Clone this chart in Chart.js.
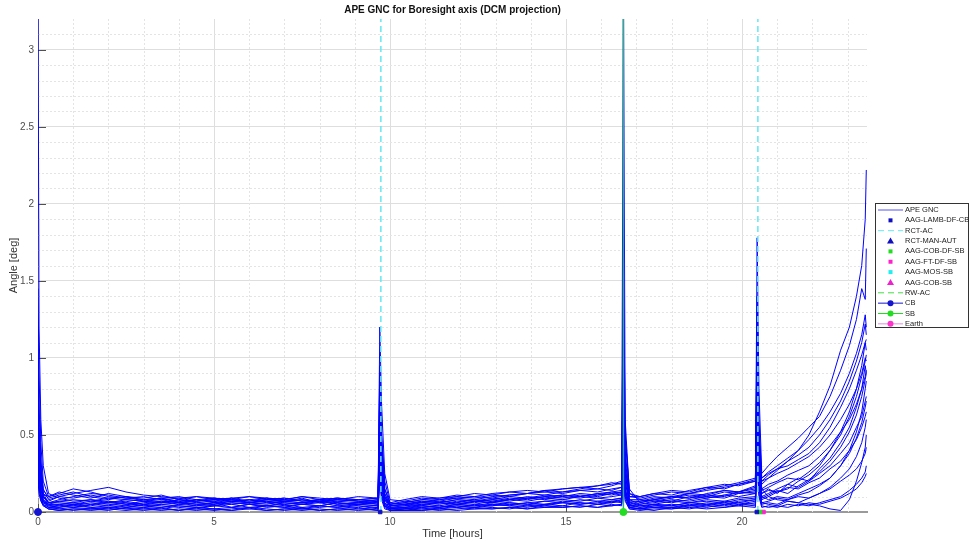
<!DOCTYPE html>
<html>
<head>
<meta charset="utf-8">
<script src="https://cdn.jsdelivr.net/npm/chart.js@4.4.0/dist/chart.umd.min.js"></script>
<style>
  html, body { margin: 0; padding: 0; background: #fff; }
  canvas { display: block; }
</style>
</head>
<body>
<canvas id="ape" width="969" height="542"></canvas>
<script>
// time axis (hours), shared by every run
const hours = [
  0, 0.03, 0.08, 0.15, 0.3,
  0.6, 1.0, 1.5, 2.0, 2.5, 3.0, 3.5, 4.0, 4.5, 5.0, 5.5, 6.0, 6.5, 7.0, 7.5, 8.0, 8.5, 9.1, 9.66,
  9.71, 9.76, 9.85, 10.0,
  10.4, 10.9, 11.4, 11.9, 12.4, 12.9, 13.4, 13.9, 14.4, 14.9, 15.4, 15.9, 16.3, 16.58,
  16.63, 16.68, 16.8,
  17.1, 17.5, 18.0, 18.5, 19.0, 19.5, 19.9, 20.38,
  20.43, 20.48, 20.56,
  20.75, 21.0, 21.3, 21.6, 21.9, 22.2, 22.5, 22.8, 23.05, 23.25, 23.4, 23.5, 23.53
];

// APE GNC angle per run [deg]
const run01 = [3.4,1.2,0.6,0.3,0.12,
  0.09,0.07,0.08,0.06,0.07,0.05,0.06,0.07,0.05,0.06,0.08,0.06,0.07,0.05,0.06,0.07,0.05,0.06,0.05,
  0.9,0.5,0.2,0.06,
  0.05,0.07,0.06,0.08,0.07,0.09,0.08,0.1,0.09,0.11,0.1,0.12,0.11,0.13,
  3.5,0.6,0.12,
  0.08,0.1,0.09,0.12,0.11,0.14,0.13,0.16,
  0.9,0.4,0.18,
  0.22,0.27,0.33,0.4,0.5,0.65,0.82,1.05,1.2,1.4,1.6,1.9,2.22];
const run02 = [1.45,0.9,0.45,0.2,0.1,
  0.12,0.15,0.13,0.1,0.09,0.08,0.09,0.07,0.08,0.06,0.07,0.08,0.06,0.07,0.08,0.06,0.07,0.06,0.07,
  1.2,0.7,0.25,0.08,
  0.07,0.06,0.08,0.09,0.08,0.1,0.11,0.12,0.11,0.13,0.14,0.13,0.15,0.16,
  1.6,0.5,0.15,
  0.06,0.08,0.1,0.09,0.12,0.14,0.13,0.17,
  1.78,0.8,0.25,
  0.3,0.36,0.42,0.48,0.55,0.62,0.75,0.92,1.08,1.25,1.45,1.38,1.71];
const run03 = [1.2,0.7,0.35,0.15,0.08,
  0.1,0.12,0.14,0.16,0.13,0.11,0.1,0.09,0.1,0.08,0.09,0.07,0.08,0.09,0.07,0.08,0.09,0.07,0.08,
  0.7,0.45,0.15,0.05,
  0.06,0.08,0.07,0.09,0.1,0.09,0.11,0.12,0.14,0.13,0.15,0.17,0.18,0.2,
  1.1,0.35,0.1,
  0.1,0.12,0.11,0.14,0.16,0.15,0.18,0.21,
  1.2,0.5,0.2,
  0.24,0.28,0.33,0.37,0.42,0.5,0.6,0.72,0.85,0.98,1.1,1.22,1.15];
const run04 = [1.0,0.55,0.3,0.12,0.06,
  0.06,0.05,0.07,0.06,0.08,0.07,0.06,0.08,0.07,0.09,0.08,0.07,0.09,0.08,0.1,0.09,0.08,0.1,0.09,
  0.6,0.35,0.12,0.04,
  0.05,0.04,0.06,0.05,0.07,0.06,0.08,0.07,0.09,0.08,0.1,0.09,0.1,0.11,
  0.9,0.3,0.08,
  0.05,0.06,0.08,0.07,0.09,0.11,0.1,0.12,
  1.0,0.45,0.15,
  0.1,0.13,0.15,0.2,0.24,0.3,0.4,0.52,0.65,0.8,0.95,1.1,1.05];
const run05 = [0.75,0.45,0.25,0.1,0.05,
  0.04,0.05,0.04,0.06,0.05,0.04,0.05,0.06,0.04,0.05,0.06,0.05,0.04,0.06,0.05,0.04,0.06,0.05,0.04,
  0.5,0.3,0.1,0.03,
  0.03,0.05,0.04,0.06,0.05,0.07,0.06,0.05,0.07,0.08,0.07,0.09,0.08,0.09,
  0.7,0.25,0.06,
  0.04,0.05,0.04,0.06,0.07,0.06,0.08,0.09,
  0.8,0.35,0.12,
  0.15,0.12,0.18,0.22,0.2,0.28,0.35,0.45,0.55,0.68,0.8,0.95,0.9];
const run06 = [0.55,0.35,0.18,0.08,0.04,
  0.03,0.04,0.03,0.02,0.04,0.03,0.05,0.04,0.03,0.04,0.05,0.03,0.04,0.05,0.03,0.04,0.03,0.05,0.04,
  0.45,0.25,0.08,0.02,
  0.02,0.03,0.04,0.03,0.05,0.04,0.06,0.05,0.04,0.06,0.05,0.07,0.06,0.08,
  0.6,0.2,0.05,
  0.03,0.04,0.05,0.04,0.06,0.05,0.07,0.08,
  0.7,0.3,0.1,
  0.08,0.1,0.09,0.12,0.15,0.18,0.22,0.3,0.4,0.52,0.65,0.8,0.85];
const run07 = [0.45,0.3,0.15,0.07,0.03,
  0.02,0.03,0.02,0.03,0.02,0.03,0.02,0.04,0.03,0.02,0.03,0.02,0.04,0.03,0.02,0.03,0.04,0.02,0.03,
  0.4,0.2,0.06,0.02,
  0.03,0.02,0.03,0.04,0.03,0.04,0.05,0.04,0.05,0.04,0.06,0.05,0.06,0.07,
  0.5,0.15,0.04,
  0.05,0.07,0.06,0.08,0.1,0.09,0.12,0.13,
  0.6,0.25,0.1,
  0.12,0.15,0.18,0.16,0.2,0.25,0.3,0.38,0.45,0.55,0.62,0.72,0.75];
const run08 = [0.4,0.25,0.12,0.05,0.02,
  0.01,0.02,0.01,0.02,0.01,0.02,0.03,0.01,0.02,0.01,0.02,0.03,0.01,0.02,0.01,0.02,0.01,0.02,0.01,
  0.35,0.18,0.05,0.01,
  0.01,0.02,0.01,0.02,0.03,0.02,0.03,0.02,0.04,0.03,0.04,0.03,0.05,0.04,
  0.45,0.12,0.03,
  0.02,0.03,0.02,0.04,0.03,0.05,0.04,0.06,
  0.5,0.2,0.06,
  0.05,0.04,0.07,0.06,0.09,0.12,0.16,0.22,0.28,0.36,0.45,0.55,0.6];
const run09 = [0.35,0.2,0.1,0.06,0.04,
  0.05,0.06,0.05,0.07,0.06,0.05,0.07,0.06,0.05,0.04,0.06,0.05,0.06,0.04,0.05,0.06,0.04,0.05,0.06,
  0.3,0.15,0.05,0.03,
  0.04,0.05,0.06,0.05,0.07,0.06,0.08,0.09,0.08,0.1,0.09,0.11,0.12,0.11,
  0.4,0.12,0.04,
  0.03,0.05,0.04,0.06,0.05,0.07,0.06,0.08,
  0.45,0.18,0.08,
  0.1,0.08,0.07,0.06,0.05,0.04,0.02,0.01,0.08,0.2,0.32,0.42,0.5];
const run10 = [0.3,0.18,0.1,0.07,0.05,
  0.07,0.08,0.07,0.09,0.08,0.07,0.08,0.06,0.07,0.08,0.07,0.06,0.08,0.07,0.06,0.07,0.08,0.07,0.06,
  0.3,0.12,0.04,0.02,
  0.03,0.04,0.03,0.05,0.04,0.06,0.05,0.06,0.07,0.06,0.08,0.07,0.08,0.09,
  0.35,0.1,0.03,
  0.02,0.03,0.03,0.04,0.05,0.04,0.06,0.05,
  0.4,0.15,0.05,
  0.06,0.05,0.08,0.1,0.09,0.12,0.15,0.2,0.24,0.28,0.33,0.38,0.42];
const run11 = [0.25,0.15,0.08,0.04,0.02,
  0.02,0.01,0.02,0.03,0.02,0.01,0.02,0.01,0.03,0.02,0.01,0.02,0.01,0.02,0.03,0.01,0.02,0.01,0.02,
  0.25,0.1,0.03,0.01,
  0.01,0.01,0.02,0.01,0.02,0.02,0.03,0.02,0.03,0.03,0.04,0.03,0.04,0.05,
  0.3,0.08,0.02,
  0.01,0.02,0.02,0.03,0.02,0.03,0.04,0.03,
  0.35,0.12,0.04,
  0.03,0.04,0.03,0.05,0.04,0.06,0.08,0.1,0.14,0.18,0.22,0.26,0.3];
const run12 = [0.6,0.4,0.2,0.1,0.07,
  0.1,0.09,0.11,0.09,0.1,0.08,0.09,0.1,0.08,0.09,0.07,0.08,0.09,0.07,0.08,0.07,0.09,0.08,0.07,
  0.55,0.3,0.1,0.05,
  0.06,0.08,0.09,0.1,0.12,0.11,0.13,0.14,0.13,0.15,0.16,0.17,0.19,0.18,
  0.8,0.25,0.07,
  0.07,0.09,0.1,0.12,0.14,0.16,0.18,0.2,
  0.9,0.4,0.2,
  0.22,0.25,0.28,0.32,0.36,0.42,0.5,0.6,0.7,0.8,0.9,1.0,0.98];
const run13 = [0.5,0.3,0.15,0.08,0.05,
  0.05,0.04,0.06,0.05,0.04,0.06,0.07,0.05,0.06,0.07,0.05,0.06,0.07,0.06,0.05,0.07,0.06,0.05,0.07,
  0.5,0.25,0.08,0.04,
  0.05,0.06,0.05,0.07,0.06,0.08,0.07,0.09,0.1,0.09,0.11,0.1,0.12,0.13,
  0.55,0.15,0.05,
  0.06,0.08,0.07,0.1,0.09,0.11,0.13,0.12,
  0.65,0.3,0.12,
  0.14,0.13,0.16,0.15,0.19,0.22,0.28,0.33,0.4,0.47,0.55,0.62,0.65];
const run14 = [0.9,0.5,0.25,0.1,0.06,
  0.08,0.1,0.12,0.11,0.09,0.1,0.08,0.09,0.07,0.08,0.09,0.1,0.08,0.09,0.07,0.08,0.07,0.08,0.09,
  0.8,0.4,0.12,0.05,
  0.07,0.09,0.08,0.1,0.09,0.11,0.1,0.12,0.13,0.12,0.14,0.15,0.14,0.16,
  1.3,0.4,0.1,
  0.09,0.11,0.13,0.12,0.15,0.17,0.19,0.22,
  1.4,0.6,0.22,
  0.26,0.3,0.35,0.4,0.47,0.55,0.65,0.77,0.9,1.03,1.15,1.28,1.2];
const run15 = [0.7,0.4,0.22,0.12,0.09,
  0.11,0.13,0.1,0.08,0.1,0.07,0.09,0.06,0.08,0.07,0.09,0.06,0.08,0.07,0.09,0.06,0.08,0.07,0.05,
  0.65,0.35,0.1,0.04,
  0.05,0.07,0.06,0.08,0.07,0.08,0.1,0.09,0.11,0.1,0.12,0.11,0.13,0.12,
  0.75,0.2,0.06,
  0.07,0.08,0.1,0.09,0.11,0.1,0.13,0.15,
  0.85,0.35,0.15,
  0.18,0.2,0.24,0.27,0.3,0.36,0.43,0.52,0.6,0.7,0.8,0.88,0.92];
const run16 = [0.38,0.22,0.12,0.07,0.03,
  0.03,0.05,0.03,0.04,0.06,0.04,0.03,0.05,0.04,0.06,0.03,0.05,0.04,0.03,0.05,0.04,0.06,0.04,0.03,
  0.42,0.2,0.06,0.02,
  0.02,0.04,0.03,0.05,0.04,0.05,0.04,0.06,0.05,0.07,0.06,0.05,0.07,0.08,
  0.5,0.14,0.04,
  0.04,0.05,0.07,0.06,0.08,0.07,0.09,0.1,
  0.55,0.22,0.09,
  0.11,0.14,0.12,0.17,0.21,0.26,0.33,0.42,0.52,0.63,0.75,0.86,0.9];
const run17 = [0.28,0.17,0.09,0.05,0.03,
  0.04,0.03,0.05,0.04,0.03,0.05,0.04,0.03,0.02,0.04,0.03,0.05,0.03,0.04,0.02,0.04,0.03,0.04,0.02,
  0.28,0.12,0.04,0.01,
  0.02,0.03,0.02,0.04,0.03,0.05,0.04,0.03,0.05,0.06,0.05,0.06,0.07,0.06,
  0.32,0.1,0.03,
  0.02,0.04,0.03,0.05,0.04,0.06,0.05,0.07,
  0.4,0.16,0.06,
  0.07,0.09,0.08,0.11,0.13,0.17,0.22,0.3,0.38,0.48,0.58,0.68,0.72];
const run18 = [0.85,0.5,0.28,0.14,0.1,
  0.13,0.11,0.09,0.12,0.1,0.09,0.11,0.08,0.1,0.09,0.08,0.1,0.09,0.08,0.1,0.08,0.09,0.08,0.09,
  0.95,0.5,0.15,0.06,
  0.08,0.1,0.09,0.11,0.1,0.12,0.13,0.12,0.14,0.15,0.16,0.15,0.17,0.19,
  1.8,0.5,0.12,
  0.1,0.12,0.14,0.13,0.16,0.18,0.17,0.2,
  1.1,0.5,0.22,
  0.25,0.28,0.3,0.34,0.38,0.45,0.55,0.68,0.8,0.92,1.02,1.1,1.12];
const run19 = [0.2,0.12,0.07,0.04,0.02,
  0.01,0.02,0.02,0.01,0.03,0.02,0.01,0.02,0.01,0.02,0.01,0.03,0.02,0.01,0.02,0.01,0.02,0.03,0.01,
  0.2,0.08,0.02,0.01,
  0.02,0.01,0.02,0.03,0.02,0.03,0.02,0.04,0.03,0.04,0.03,0.05,0.04,0.05,
  0.25,0.07,0.02,
  0.02,0.01,0.03,0.02,0.04,0.03,0.05,0.04,
  0.3,0.1,0.03,
  0.04,0.03,0.05,0.04,0.06,0.05,0.07,0.09,0.12,0.15,0.19,0.23,0.25];
const run20 = [0.65,0.38,0.2,0.1,0.06,
  0.07,0.06,0.08,0.07,0.05,0.07,0.06,0.08,0.06,0.05,0.07,0.06,0.05,0.07,0.06,0.08,0.05,0.06,0.08,
  0.6,0.3,0.09,0.04,
  0.04,0.06,0.07,0.06,0.08,0.07,0.09,0.08,0.1,0.11,0.1,0.12,0.13,0.14,
  0.95,0.3,0.08,
  0.08,0.07,0.09,0.11,0.1,0.13,0.12,0.14,
  0.75,0.3,0.14,
  0.16,0.19,0.22,0.21,0.26,0.32,0.4,0.5,0.62,0.75,0.88,0.98,1.02];
const runs = [run01, run02, run03, run04, run05, run06, run07, run08, run09, run10,
  run11, run12, run13, run14, run15, run16, run17, run18, run19, run20];

// event markers (hours)
const rctAcTimes = [9.74, 20.45];
const rwAcTimes = [16.63];
const cbTimes = [0];
const sbTimes = [16.63];
const lambDfCbTimes = [9.72, 20.42];
const cobDfSbTimes = [20.51];
const ftDfSbTimes = [20.61];

const xTicks = [0, 5, 10, 15, 20];
const yTicks = [0, 0.5, 1, 1.5, 2, 2.5, 3];

const legendLabels = ['APE GNC', 'AAG-LAMB-DF-CB', 'RCT-AC', 'RCT-MAN-AUT', 'AAG-COB-DF-SB',
  'AAG-FT-DF-SB', 'AAG-MOS-SB', 'AAG-COB-SB', 'RW-AC', 'CB', 'SB', 'Earth'];

const FONT = '"Liberation Sans", Arial, Helvetica, sans-serif';
const Y_MAX = 3.2;

function vline(times, top) {
  let pts = [];
  times.forEach(function (t) {
    pts.push({x: t, y: 0});
    pts.push({x: t, y: top});
    pts.push({x: t, y: null});
  });
  return pts;
}

function atZero(times) {
  return times.map(function (t) { return {x: t, y: 0}; });
}

let datasets = [];
runs.forEach(function (r) {
  if (r.length !== hours.length) console.warn('length mismatch', r.length);
  datasets.push({
    data: r.map(function (v, i) { return {x: hours[i], y: v}; }),
    borderColor: '#0000ff',
    borderWidth: 1,
    pointRadius: 0,
    tension: 0,
    order: 5
  });
});
datasets.push({data: vline(rctAcTimes, Y_MAX), borderColor: '#66e8f2', borderWidth: 1.5,
  borderDash: [6, 4], pointRadius: 0, spanGaps: false, order: 2});
datasets.push({data: vline(rwAcTimes, Y_MAX), borderColor: '#35a88a', borderWidth: 1.5,
  pointRadius: 0, spanGaps: false, order: 2});
datasets.push({data: atZero(lambDfCbTimes), showLine: false, pointStyle: 'rect', pointRadius: 2.5,
  pointBackgroundColor: '#1010c0', pointBorderColor: '#1010c0', order: 1, clip: false});
datasets.push({data: atZero(cobDfSbTimes), showLine: false, pointStyle: 'rect', pointRadius: 2.5,
  pointBackgroundColor: '#22dd22', pointBorderColor: '#22dd22', order: 1, clip: false});
datasets.push({data: atZero(ftDfSbTimes), showLine: false, pointStyle: 'rect', pointRadius: 2.5,
  pointBackgroundColor: '#ff22cc', pointBorderColor: '#ff22cc', order: 1, clip: false});
datasets.push({data: atZero(cbTimes), showLine: false, pointStyle: 'circle', pointRadius: 3.5,
  pointBackgroundColor: '#1515d0', pointBorderColor: '#1515d0', order: 1, clip: false});
datasets.push({data: atZero(sbTimes), showLine: false, pointStyle: 'circle', pointRadius: 3.5,
  pointBackgroundColor: '#22dd22', pointBorderColor: '#22dd22', order: 1, clip: false});

// minor grid, inside ticks, title, axis titles and legend box
const decor = {
  id: 'decor',
  beforeDatasetsDraw(chart) {
    const ctx = chart.ctx, a = chart.chartArea;
    const xs = chart.scales.x, ys = chart.scales.y;
    ctx.save();
    ctx.strokeStyle = '#e4e4e4';
    ctx.lineWidth = 1;
    ctx.setLineDash([2, 2]);
    for (let h = 1; h < xs.max; h++) {
      if (h % 5 === 0) continue;
      const px = Math.round(xs.getPixelForValue(h)) + 0.5;
      ctx.beginPath(); ctx.moveTo(px, a.top); ctx.lineTo(px, a.bottom); ctx.stroke();
    }
    for (let k = 1; k < Y_MAX * 10; k++) {
      if (k % 5 === 0) continue;
      const py = Math.round(ys.getPixelForValue(k / 10)) + 0.5;
      ctx.beginPath(); ctx.moveTo(a.left, py); ctx.lineTo(a.right, py); ctx.stroke();
    }
    ctx.setLineDash([]);
    ctx.strokeStyle = '#505050';
    yTicks.forEach(function (v) {
      const py = Math.round(ys.getPixelForValue(v)) + 0.5;
      ctx.beginPath(); ctx.moveTo(a.left, py); ctx.lineTo(a.left + 8, py); ctx.stroke();
    });
    xTicks.forEach(function (v) {
      const px = Math.round(xs.getPixelForValue(v)) + 0.5;
      ctx.beginPath(); ctx.moveTo(px, a.bottom); ctx.lineTo(px, a.bottom - 8); ctx.stroke();
    });
    ctx.restore();
  },
  afterDraw(chart) {
    const ctx = chart.ctx, a = chart.chartArea;
    ctx.save();
    ctx.fillStyle = '#111';
    ctx.font = 'bold 10px ' + FONT;
    ctx.textAlign = 'center';
    ctx.textBaseline = 'middle';
    ctx.fillText('APE GNC for Boresight axis (DCM projection)', (a.left + a.right) / 2, 10);

    ctx.fillStyle = '#333';
    ctx.font = '11px ' + FONT;
    ctx.fillText('Time [hours]', (a.left + a.right) / 2, 534);
    ctx.translate(14, (a.top + a.bottom) / 2);
    ctx.rotate(-Math.PI / 2);
    ctx.fillText('Angle [deg]', 0, 0);
    ctx.restore();

    // legend
    ctx.save();
    const bx = 875.5, by = 203.5, bw = 93, bh = 124, step = 10.35;
    ctx.fillStyle = '#fff';
    ctx.fillRect(bx, by, bw, bh);
    ctx.strokeStyle = '#333';
    ctx.lineWidth = 1;
    ctx.strokeRect(bx, by, bw, bh);
    ctx.font = '7.5px ' + FONT;
    ctx.textAlign = 'left';
    ctx.textBaseline = 'middle';
    const x0 = 878, x1 = 903, mx = 890.5;
    legendLabels.forEach(function (lab, i) {
      const y = by + 6 + i * step;
      ctx.setLineDash([]);
      ctx.lineWidth = 1;
      if (i === 0) { ctx.strokeStyle = '#5555ee'; line(); }
      if (i === 2) { ctx.strokeStyle = '#66e8f2'; ctx.setLineDash([6, 4]); line(); }
      if (i === 8) { ctx.strokeStyle = '#44dd44'; ctx.setLineDash([6, 4]); line(); }
      if (i === 9) { ctx.strokeStyle = '#1515d0'; line(); dot('#1515d0'); }
      if (i === 10) { ctx.strokeStyle = '#22dd22'; line(); dot('#22dd22'); }
      if (i === 11) { ctx.strokeStyle = '#e08ce0'; line(); dot('#ff33cc'); }
      if (i === 1) sq('#1010c0');
      if (i === 4) sq('#22dd22');
      if (i === 5) sq('#ff22cc');
      if (i === 6) sq('#22eeee');
      if (i === 3) tri('#1010c0');
      if (i === 7) tri('#ee22cc');
      ctx.setLineDash([]);
      ctx.fillStyle = '#222';
      ctx.fillText(lab, 905, y + 0.5);

      function line() { ctx.beginPath(); ctx.moveTo(x0, y + 0.5); ctx.lineTo(x1, y + 0.5); ctx.stroke(); }
      function dot(c) { ctx.fillStyle = c; ctx.beginPath(); ctx.arc(mx, y + 0.5, 3, 0, Math.PI * 2); ctx.fill(); }
      function sq(c) { ctx.fillStyle = c; ctx.fillRect(mx - 2, y - 1.5, 4, 4); }
      function tri(c) {
        ctx.fillStyle = c; ctx.beginPath();
        ctx.moveTo(mx, y - 3); ctx.lineTo(mx + 3.5, y + 3); ctx.lineTo(mx - 3.5, y + 3);
        ctx.closePath(); ctx.fill();
      }
    });
    ctx.restore();
  }
};

const ctx = document.getElementById('ape').getContext('2d');
new Chart(ctx, {
  type: 'line',
  data: { datasets: datasets },
  options: {
    responsive: false,
    animation: false,
    devicePixelRatio: 1,
    layout: { padding: { left: 0, right: 102, top: 19, bottom: 0 } },
    plugins: { legend: { display: false }, tooltip: { enabled: false }, title: { display: false } },
    scales: {
      x: {
        type: 'linear',
        min: 0,
        max: 23.55,
        afterFit: function (s) { s.height = 30; },
        afterBuildTicks: function (s) { s.ticks = xTicks.map(function (v) { return {value: v}; }); },
        ticks: { color: '#4d4d4d', font: { family: FONT, size: 10 }, padding: 4, maxRotation: 0,
          callback: function (v) { return String(v); } },
        grid: { color: '#dedede', lineWidth: 1, drawTicks: false },
        border: { color: '#9a9a9a', width: 2 }
      },
      y: {
        type: 'linear',
        min: 0,
        max: Y_MAX,
        afterFit: function (s) { s.width = 38; },
        afterBuildTicks: function (s) { s.ticks = yTicks.map(function (v) { return {value: v}; }); },
        ticks: { color: '#4d4d4d', font: { family: FONT, size: 10 }, padding: 4,
          callback: function (v) { return String(v); } },
        grid: { color: '#dedede', lineWidth: 1, drawTicks: false },
        border: { color: '#9a9a9a', width: 1 }
      }
    }
  },
  plugins: [decor]
});
</script>
</body>
</html>
